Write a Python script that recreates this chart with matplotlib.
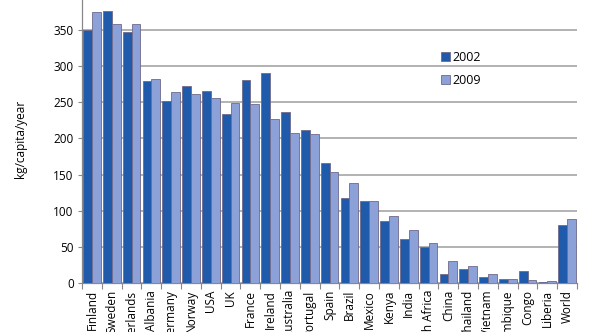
import numpy as np
import matplotlib
matplotlib.use("Agg")
import matplotlib.pyplot as plt
from matplotlib.ticker import MultipleLocator

countries = ["Finland", "Sweden", "Netherlands", "Albania", "Germany", "Norway",
             "USA", "UK", "France", "Ireland", "Australia", "Portugal", "Spain",
             "Brazil", "Mexico", "Kenya", "India", "South Africa", "China",
             "Thailand", "Vietnam", "Mozambique", "Congo", "Liberia", "World"]
waste_2002 = [350, 376, 347, 279, 252, 272, 265, 234, 281, 290, 236, 211, 166,
              117, 113, 86, 61, 50, 13, 20, 8, 5, 16, 2, 80]
waste_2009 = [375, 358, 358, 282, 264, 262, 256, 249, 248, 227, 208, 206, 153,
              138, 113, 93, 73, 56, 30, 23, 12, 5, 4, 3, 88]

plt.rcParams["font.family"] = ["Open Sans", "DejaVu Sans"]
plt.rcParams["font.size"] = 8.5

dark = "#1f5aab"
light = "#8ba1d8"
edge = "#6f6a8c"
grey = "#a6a6a6"

fig = plt.figure(figsize=(5.9, 3.32), dpi=100)
# axes reach above the top edge, so the 400 line is cut off
ax = fig.add_axes([0.139, 0.1476, 0.839, 0.871])

x = np.arange(len(countries))
w = 0.445
ax.bar(x - w / 2, waste_2002, w, color=dark, edgecolor=edge, linewidth=0.6,
       label="2002", zorder=3)
ax.bar(x + w / 2, waste_2009, w, color=light, edgecolor=edge, linewidth=0.6,
       label="2009", zorder=3)

ax.set_xlim(-0.5, len(countries) - 0.5)
ax.set_ylim(0, 400)
ax.yaxis.set_major_locator(MultipleLocator(50))
ax.grid(axis="y", color=grey, linewidth=1.2, zorder=0)

ax.set_xticks(x)
ax.set_xticklabels(countries, rotation=90, va="top", ha="center")
ax.set_xticks(np.arange(-0.5, len(countries)), minor=True)
ax.tick_params(axis="x", which="major", length=0, pad=5)
ax.tick_params(axis="x", which="minor", length=4, color="#888888", width=0.8)
ax.tick_params(axis="y", length=3, color="#888888", width=0.8, pad=3)

for side in ["top", "right"]:
    ax.spines[side].set_visible(False)
for side in ["left", "bottom"]:
    ax.spines[side].set_color("#888888")
    ax.spines[side].set_linewidth(0.9)

ax.set_ylabel("kg/capita/year", labelpad=19)

ax.legend(loc="upper left", bbox_to_anchor=(0.729, 0.88),
          bbox_transform=fig.transFigure, frameon=False, handlelength=0.7,
          handleheight=0.7, handletextpad=0.2, labelspacing=0.8, fontsize=9)

fig.savefig("out.png", dpi=100)
